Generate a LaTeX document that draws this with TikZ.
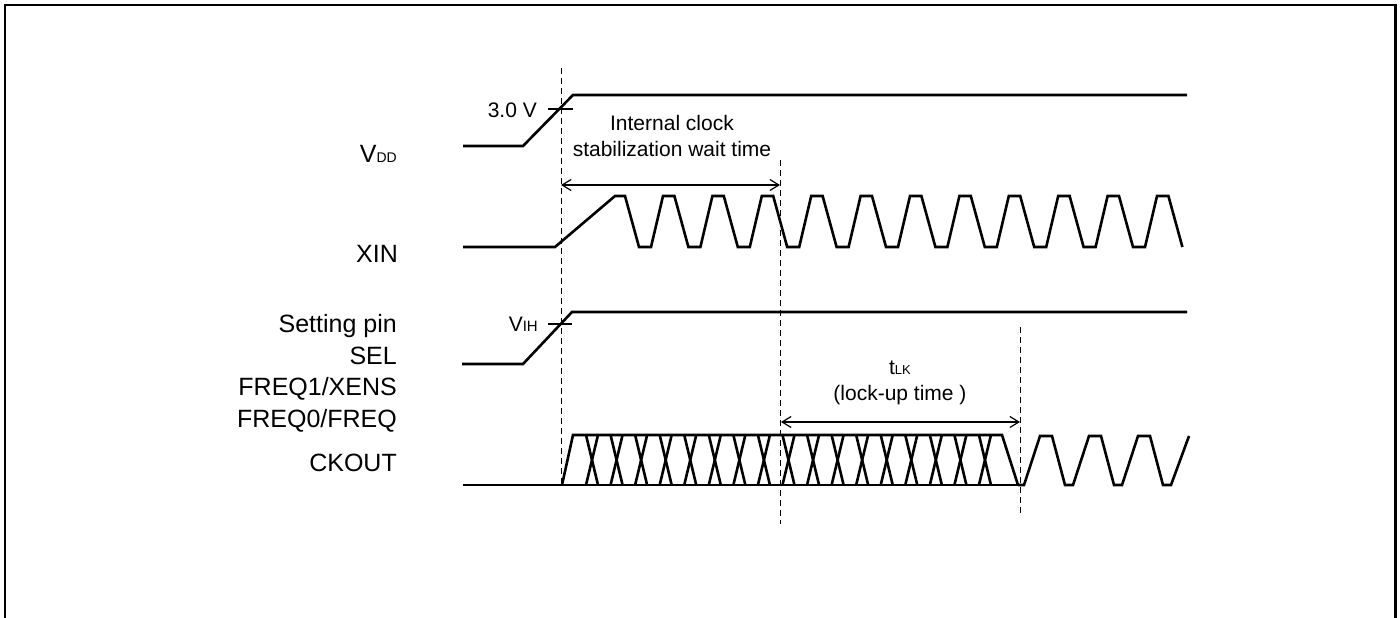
\documentclass[tikz,border=0pt]{standalone}
\usepackage{fontspec}
\setmainfont{Liberation Sans}
\usetikzlibrary{arrows.meta}
\begin{document}
\begin{tikzpicture}[x=1pt,y=-1pt,
  wave/.style={line width=2.6pt, line join=miter, line cap=butt},
  guide/.style={line width=1.0pt, dash pattern=on 6pt off 4pt},
  dimarrow/.style={line width=1.2pt, {Straight Barb[length=9pt,width=11pt]}-{Straight Barb[length=9pt,width=11pt]}},
  tickmark/.style={line width=1.2pt},
  lbl/.style={inner sep=0pt, anchor=base east, font=\fontsize{25}{30}\selectfont},
  note/.style={inner sep=0pt, anchor=base, font=\fontsize{21}{26}\selectfont},
]
\useasboundingbox (0,0) rectangle (1400,618);
% frame (open at the bottom)
\draw[line width=2.2pt] (5,618) -- (5,5) -- (1395.5,5) -- (1395.5,618);

% signal labels
\node[lbl] (vdd) at (397,162) {V{\fontsize{14}{14}\selectfont DD}};
\node[lbl] (xin) at (398,262) {XIN};
\node[lbl] (set) at (397,332) {Setting pin};
\node[lbl] (sel) at (397,364) {SEL};
\node[lbl] (fone) at (397,395) {FREQ1/XENS};
\node[lbl] (fzero) at (397,427) {FREQ0/FREQ};
\node[lbl] (ck) at (397,471) {CKOUT};

% VDD
\draw[wave] (463,146) -- (523,146) -- (573,95) -- (1187,95);
\coordinate (vtl) at (548,109); \coordinate (vtr) at (573,109);
\draw[tickmark] (vtl) -- (vtr);
\node[note, anchor=base east] (v30) at (537,117) {3.0 V};

% XIN
\draw[wave] (463,247) -- (555,247) -- (615,196) -- (625,196)
  \foreach \k in {0,...,10} {
    -- ({625+49.4*\k+14},247) -- ({625+49.4*\k+26},247)
    -- ({625+49.4*\k+38},196) -- ({625+49.4*\k+49.4},196)
  } -- (1182.4,247);

% Setting pin
\draw[wave] (462,364) -- (523,364) -- (572,312) -- (1187,312);
\coordinate (itl) at (548,324); \coordinate (itr) at (572,324);
\draw[tickmark] (itl) -- (itr);
\node[note, anchor=base east] (vih) at (538,331) {V{\fontsize{15}{15}\selectfont IH}};

% CKOUT
\draw[wave] (463,485) -- (1024,485);
\draw[wave] (562,485) -- (573,435) -- (1002,435) -- (1018,485);
\foreach \i in {0,...,16} {
  \draw[wave] ({592+24.56*\i-6},435) -- ({592+24.56*\i+6},485);
  \draw[wave] ({592+24.56*\i+6},435) -- ({592+24.56*\i-6},485);
}
\draw[wave] (1018,485) -- (1024,485)
  \foreach \j in {0,1,2} {
    -- ({1024+49*\j+16},436) -- ({1024+49*\j+28},436)
    -- ({1024+49*\j+41},485) -- ({1024+49*\j+49},485)
  } -- (1189,436);

% dashed guides
\coordinate (d1t) at (561,68);  \coordinate (d1b) at (561,487);
\coordinate (d2t) at (780,160); \coordinate (d2b) at (780,524);
\coordinate (d3t) at (1020,327); \coordinate (d3b) at (1020,514);
\draw[guide] (d1t) -- (d1b);
\draw[guide] (d2t) -- (d2b);
\draw[guide] (d3t) -- (d3b);

% stabilization wait time
\node[note] (ic1) at (672,130) {Internal clock};
\node[note] (ic2) at (672,156) {stabilization wait time};
\coordinate (a1l) at (561,185); \coordinate (a1r) at (780,185);
\draw[dimarrow] (a1l) -- (a1r);

% lock-up time
\node[note] (tlk) at (900,374) {t{\fontsize{13}{13}\selectfont LK}};
\node[note] (lut) at (900,400) {(lock-up time )};
\coordinate (a2l) at (781,422); \coordinate (a2r) at (1020,422);
\draw[dimarrow] (a2l) -- (a2r);
\end{tikzpicture}
\end{document}
